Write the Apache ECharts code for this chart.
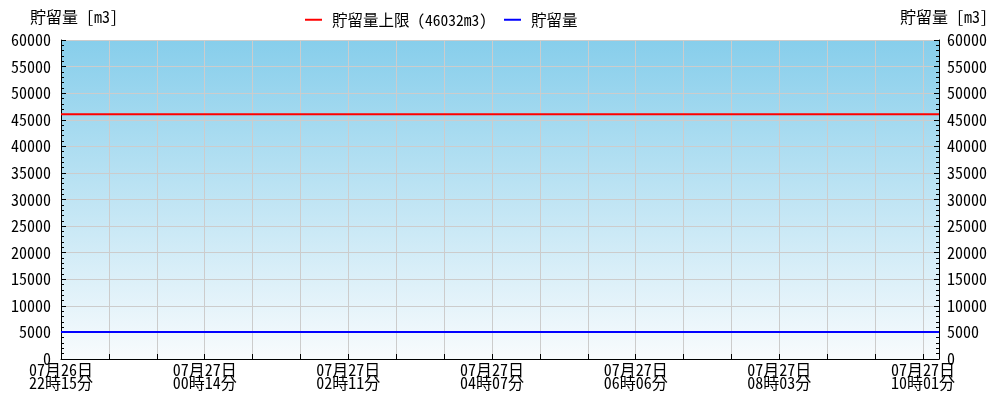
<!DOCTYPE html>
<html><head><meta charset="utf-8">
<script src="https://cdn.jsdelivr.net/npm/echarts@6/dist/echarts.min.js"></script>
<style>html,body{margin:0;padding:0;background:#fff}#c{width:1000px;height:400px}</style>
</head><body><div id="c"></div>
<script>
const tickLabels = ['07月26日\n22時15分','07月27日\n00時14分','07月27日\n02時11分','07月27日\n04時07分','07月27日\n06時06分','07月27日\n08時03分','07月27日\n10時01分'];
const pointIndex = [0, 110];
const capacityValues = [46032, 46032];
const storageValues = [5060, 5060];
const capacityName = '貯留量上限 (46032m3)';
const storageName = '貯留量';
const yName = '貯留量 [m3]';

const FONT = "'Noto Sans Mono CJK JP','DejaVu Sans Mono','Noto Sans CJK JP',monospace";
const FS = 16;
const chart = echarts.init(document.getElementById('c'), null, {renderer:'canvas'});
const yAxisBase = (pos) => ({
  type:'value', position:pos, min:0, max:60000, interval:5000,
  name: yName, nameLocation:'end', nameGap:15,
  nameTextStyle:{fontFamily:FONT, fontSize:FS, color:'#000', padding: pos==='left'?[0,0,0,26]:[0,0,0,10]},
  axisLine:{show:true, lineStyle:{color:'#000', width:1}},
  axisTick:{show:true, inside:true, length:5, lineStyle:{color:'#000'}},
  minorTick:{show:true, splitNumber:5, length:3, lineStyle:{color:'#000'}},
  axisLabel:{fontFamily:FONT, fontSize:FS, color:'#000', margin: pos==='left'?10:8, formatter:(v)=>String(v)},
  splitLine:{show: pos==='left', lineStyle:{color:'#cccccc', width:1}}
});
chart.setOption({
  animation:false,
  grid:{left:61, right:61, top:40, bottom:41, show:true, borderWidth:0,
    backgroundColor:new echarts.graphic.LinearGradient(0,0,0,1,[{offset:0,color:'#87CEEB'},{offset:1,color:'#f8fbfd'}])},
  legend:{top:12, left:305, padding:0, itemWidth:17, itemHeight:2, itemGap:17, icon:'rect',
    textStyle:{fontFamily:FONT, fontSize:15.5, color:'#000', padding:[0,0,0,5]},
    data:[capacityName, storageName]},
  xAxis:{type:'value', min:0, max:110, interval:6,
    axisLine:{show:true, onZero:false, lineStyle:{color:'#000', width:1}},
    axisTick:{show:true, inside:true, length:5, lineStyle:{color:'#000'}},
    axisLabel:{fontFamily:FONT, fontSize:FS, color:'#000', lineHeight:13, margin:4,
      showMaxLabel:false,
      formatter:(v)=> (v%18===0 ? tickLabels[v/18] : '')},
    splitLine:{show:true, lineStyle:{color:'#cccccc', width:1}}},
  yAxis:[yAxisBase('left'), yAxisBase('right')],
  series:[
    {name:capacityName, type:'line', symbol:'none', color:'#ff0000', lineStyle:{width:2, color:'#ff0000'},
      data: pointIndex.map((x,i)=>[x, capacityValues[i]])},
    {name:storageName, type:'line', symbol:'none', color:'#0000ff', lineStyle:{width:2, color:'#0000ff'},
      data: pointIndex.map((x,i)=>[x, storageValues[i]])}
  ]
});
</script></body></html>
